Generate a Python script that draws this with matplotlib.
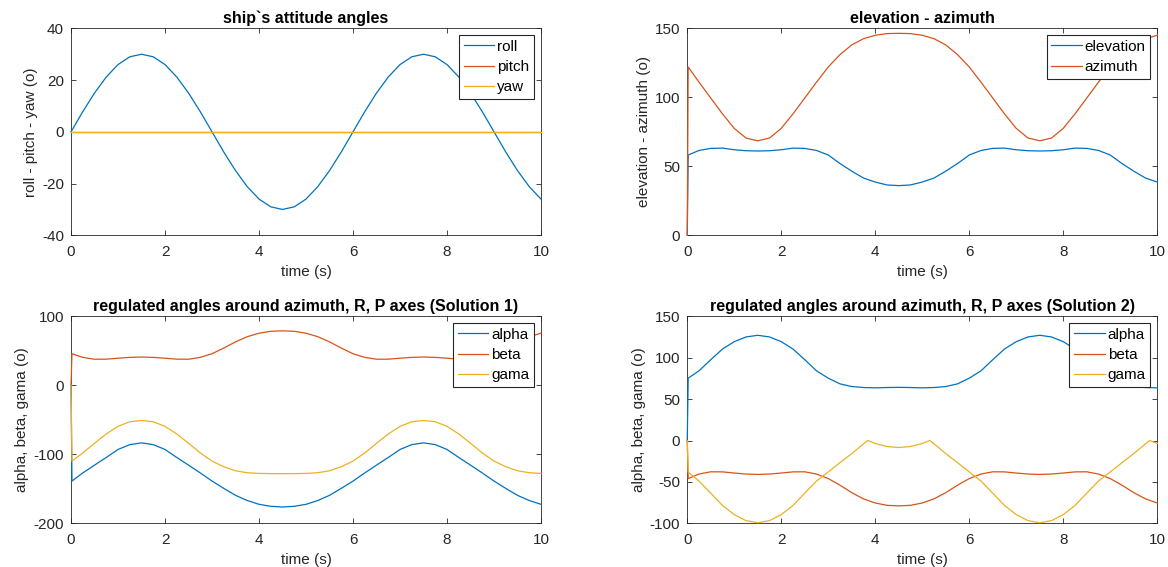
import numpy as np
import matplotlib
matplotlib.use('Agg')
import matplotlib.pyplot as plt

t = np.linspace(0, 10, 41)

roll = [0, 7.8, 15, 21.2, 26, 29, 30, 29, 26, 21.2, 15, 7.8, 0, -7.8, -15, -21.2, -26, -29, -30, -29,
        -26, -21.2, -15, -7.8, 0, 7.8, 15, 21.2, 26, 29, 30, 29, 26, 21.2, 15, 7.8, 0, -7.8, -15, -21.2, -26]
pitch = [0] * 41
yaw = [0] * 41

elevation = [58.2, 61.5, 63, 63.2, 62, 61.3, 61.1, 61.3, 62, 63.2, 63, 61.5, 58.2, 52, 46.5, 41.5, 38.6,
             36.5, 36, 36.5, 38.6, 41.5, 46.5, 52, 58.2, 61.5, 63, 63.2, 62, 61.3, 61.1, 61.3, 62, 63.2,
             63, 61.5, 58.2, 52, 46.5, 41.5, 38.6]
azimuth = [122, 111, 99.5, 88, 77.5, 70.5, 68.5, 70.5, 77.5, 88, 99.5, 111, 122, 131, 138, 142.5, 145,
           146.2, 146.4, 146.2, 145, 142.5, 138, 131, 122, 111, 99.5, 88, 77.5, 70.5, 68.5, 70.5, 77.5,
           88, 99.5, 111, 122, 131, 138, 142.5, 145]

alpha1 = [-138.8, -127, -115.7, -104.6, -93, -86, -83.4, -86, -93, -104.6, -115.7, -127, -138.8, -149.4,
          -159.5, -167, -172.5, -175.4, -176.4, -175.4, -172.5, -167, -159.5, -149.4, -138.8, -127, -115.7,
          -104.6, -93, -86, -83.4, -86, -93, -104.6, -115.7, -127, -138.8, -149.4, -159.5, -167, -172.5]
beta1 = [45.8, 40.5, 37.8, 37.9, 39.3, 40.5, 41, 40.5, 39.3, 37.9, 37.8, 40.5, 45.8, 54, 63, 70.5, 75.5,
         78.3, 79, 78.3, 75.5, 70.5, 63, 54, 45.8, 40.5, 37.8, 37.9, 39.3, 40.5, 41, 40.5, 39.3, 37.9,
         37.8, 40.5, 45.8, 54, 63, 70.5, 75.5]
gama1 = [-109.9, -98, -84, -70.5, -59.5, -52.8, -51, -52.8, -59.5, -70.5, -84, -98, -109.9, -118, -123.9,
         -126.7, -127.7, -128, -128, -128, -127.7, -126.7, -123.9, -118, -109.9, -98, -84, -70.5, -59.5,
         -52.8, -51, -52.8, -59.5, -70.5, -84, -98, -109.9, -118, -123.9, -126.7, -127.7]

alpha2 = [75.3, 84.2, 97.6, 110.5, 119.4, 125.1, 127.1, 125.1, 119.4, 110.5, 97.6, 84.2, 75.3, 68.4, 65.2,
          64, 63.6, 64, 64.2, 64, 63.6, 64, 65.2, 68.4, 75.3, 84.2, 97.6, 110.5, 119.4, 125.1, 127.1, 125.1,
          119.4, 110.5, 97.6, 84.2, 75.3, 68.4, 65.2, 64, 63.6]
beta2 = [-46, -40.5, -37.8, -37.9, -39.3, -40.5, -41, -40.5, -39.3, -37.9, -37.8, -40.5, -46, -54, -63,
         -70.5, -75.5, -78.3, -79, -78.3, -75.5, -70.5, -63, -54, -46, -40.5, -37.8, -37.9, -39.3, -40.5,
         -41, -40.5, -39.3, -37.9, -37.8, -40.5, -46, -54, -63, -70.5, -75.5]
# gama (solution 2) has kinks where it touches 0
t_kinks = [3.84, 5.16, 9.84]
t_gama2 = np.sort(np.concatenate([t, t_kinks]))
gama2 = [-38, -49, -63.6, -78.5, -89.5, -96.8, -99.4, -96.8, -89.5, -78.5, -63.6, -49, -38, -26.8, -15.8,
         -4, 0, -3.6, -7.3, -8.5, -7.3, -3.6, 0, -4, -15.8, -26.8, -38, -49, -63.6, -78.5, -89.5, -96.8,
         -99.4, -96.8, -89.5, -78.5, -63.6, -49, -38, -26.8, -15.8, -4, 0, -3.6]

# ---- style (matlab look) -----------------------------------------------------
plt.rcParams['font.family'] = ['Liberation Sans', 'DejaVu Sans']
plt.rcParams['font.size'] = 11
plt.rcParams['axes.unicode_minus'] = False
c1, c2, c3 = '#0072BD', '#D95319', '#EDB120'
dark = '#262626'


def with_start(t_, y_):
    # every regulated signal starts from 0 at t=0
    t_ = np.asarray(t_, dtype=float).copy()
    t_[0] = 0.02
    return np.concatenate([[0.0], t_]), np.concatenate([[0.0], y_])


def style_ax(ax, ylim, yticks, title, ylabel):
    ax.set_xlim(0, 10)
    ax.set_ylim(*ylim)
    ax.set_xticks([0, 2, 4, 6, 8, 10])
    ax.set_yticks(yticks)
    ax.tick_params(direction='in', length=3.5, width=0.6, top=True, right=True,
                   colors=dark, labelcolor=dark, labelsize=11, pad=5)
    ax.tick_params(axis='x', pad=7)
    for sp in ax.spines.values():
        sp.set_color(dark)
        sp.set_linewidth(0.6)
    ax.set_title(title, fontweight='bold', fontsize=11.5, pad=4)
    ax.set_xlabel('time (s)', color=dark, labelpad=4)
    ax.set_ylabel(ylabel, color=dark, labelpad=3)
    leg = ax.legend(loc='upper right', fontsize=11, frameon=True, fancybox=False,
                    edgecolor=dark, framealpha=1, borderpad=0.3, labelspacing=0.4,
                    handlelength=2.0, handletextpad=0.2, borderaxespad=0.45)
    leg.get_frame().set_linewidth(0.8)


fig = plt.figure(figsize=(11.68, 5.67), dpi=100)
w, h = 0.4024, 0.365
ax1 = fig.add_axes([0.0608, 0.585, w, h])
ax2 = fig.add_axes([0.5884, 0.585, w, h])
ax3 = fig.add_axes([0.0608, 0.0771, w, h])
ax4 = fig.add_axes([0.5884, 0.0771, w, h])

lw = 0.9
kw = dict(lw=lw, zorder=3, clip_on=False)
# ship attitude
ax1.plot(t, roll, color=c1, label='roll', **kw)
ax1.plot(t, pitch, color=c2, label='pitch', **kw)
ax1.plot(t, yaw, color=c3, label='yaw', **kw)
style_ax(ax1, (-40, 40), [-40, -20, 0, 20, 40], 'ship`s attitude angles', 'roll - pitch - yaw (o)')

# elevation / azimuth
ax2.plot(*with_start(t, elevation), color=c1, label='elevation', **kw)
ax2.plot(*with_start(t, azimuth), color=c2, label='azimuth', **kw)
style_ax(ax2, (0, 150), [0, 50, 100, 150], 'elevation - azimuth', 'elevation - azimuth (o)')

# solution 1
ax3.plot(*with_start(t, alpha1), color=c1, label='alpha', **kw)
ax3.plot(*with_start(t, beta1), color=c2, label='beta', **kw)
ax3.plot(*with_start(t, gama1), color=c3, label='gama', **kw)
style_ax(ax3, (-200, 100), [-200, -100, 0, 100],
         'regulated angles around azimuth, R, P axes (Solution 1)', 'alpha, beta, gama (o)')

# solution 2
ax4.plot(*with_start(t, alpha2), color=c1, label='alpha', **kw)
ax4.plot(*with_start(t, beta2), color=c2, label='beta', **kw)
ax4.plot(*with_start(t_gama2, gama2), color=c3, label='gama', **kw)
style_ax(ax4, (-100, 150), [-100, -50, 0, 50, 100, 150],
         'regulated angles around azimuth, R, P axes (Solution 2)', 'alpha, beta, gama (o)')

fig.savefig('out.png', dpi=100)
